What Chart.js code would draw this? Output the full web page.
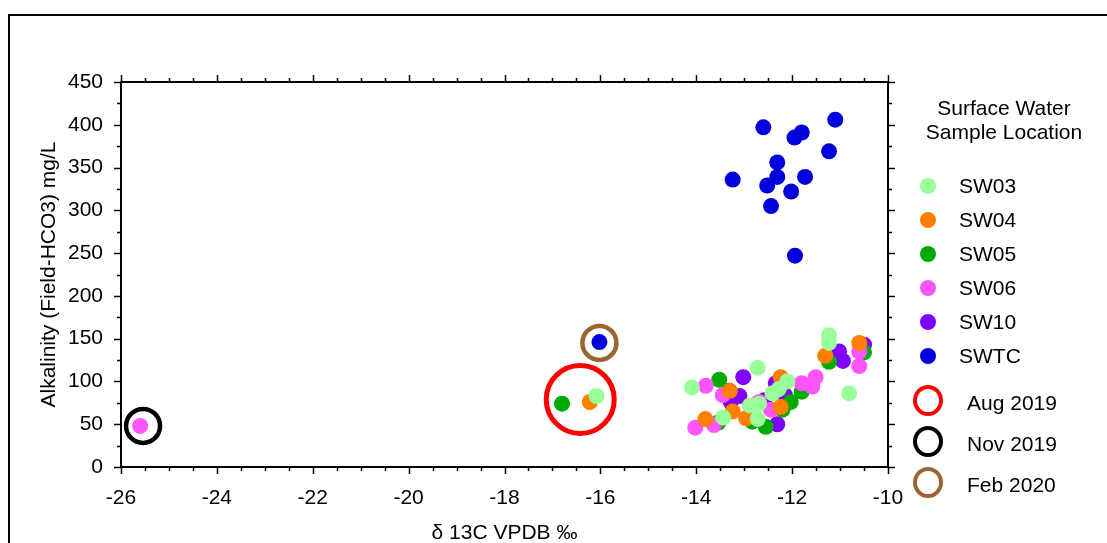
<!DOCTYPE html>
<html>
<head>
<meta charset="utf-8">
<script src="https://cdn.jsdelivr.net/npm/chart.js@4/dist/chart.umd.min.js"></script>
<style>
  html, body { margin: 0; padding: 0; background: #fff; overflow: hidden; }
  body { width: 1107px; height: 543px; position: relative; font-family: "Liberation Sans", Arial, sans-serif; }
  #frame { position: absolute; left: 8px; top: 14px; width: 2000px; height: 2000px; border: 2px solid #000; }
  #wrap { position: absolute; left: 0; top: 0; width: 1107px; height: 543px; }
  .lg { position: absolute; font-size: 21px; color: #000; white-space: nowrap; line-height: 24px; }
  .dot { position: absolute; width: 16px; height: 16px; border-radius: 50%; }
  .ring { position: absolute; width: 22px; height: 23px; border-radius: 50%; border-style: solid; border-width: 4px; }
</style>
</head>
<body>
<div id="frame"></div>
<div id="wrap"><canvas id="chart"></canvas></div>
<div id="legend"></div>
<script>
// ===== DATA =====
const seriesNames  = ["SW03", "SW04", "SW05", "SW06", "SW10", "SWTC"];
const seriesColors = ["#99ff99", "#ff8000", "#00aa00", "#ff55ff", "#8000ff", "#0000dd"];

// [d13C, alkalinity] pairs
const sw03 = [[-16.08, 83], [-11.23, 154], [-11.23, 145], [-12.72, 116], [-14.09, 93], [-10.81, 86],
              [-12.10, 100], [-12.41, 86], [-12.28, 91], [-12.69, 74], [-12.88, 72], [-13.44, 58], [-12.72, 56]];
const sw04 = [[-16.22, 76], [-10.60, 145], [-11.31, 130], [-12.24, 105], [-12.24, 70], [-13.81, 56],
              [-13.24, 65], [-12.96, 57], [-13.30, 89]];
const sw05 = [[-16.80, 74], [-13.52, 102], [-11.23, 123], [-10.50, 134], [-11.80, 88], [-12.03, 76],
              [-13.54, 52], [-12.55, 47], [-12.83, 53], [-12.20, 67]];
const sw06 = [[-25.60, 48], [-13.80, 95], [-10.60, 118], [-10.60, 135], [-11.51, 105], [-11.58, 94],
              [-11.80, 98], [-13.45, 84], [-12.69, 76], [-12.44, 67], [-14.02, 46], [-13.63, 49]];
const sw10 = [[-13.02, 105], [-11.02, 135], [-10.94, 124], [-10.50, 143], [-13.10, 83], [-13.28, 76],
              [-13.31, 89], [-12.58, 78], [-12.15, 84], [-12.31, 50], [-12.34, 98]];
const swtc = [[-16.02, 146], [-12.60, 397], [-11.10, 406], [-11.80, 391], [-11.95, 385], [-11.23, 369],
              [-12.31, 356], [-13.24, 336], [-12.31, 339], [-12.52, 329], [-11.73, 339], [-12.02, 322],
              [-12.44, 305], [-11.94, 247]];
const seriesData  = [sw03, sw04, sw05, sw06, sw10, swtc];
const seriesOrder = [1, 2, 4, 3, 5, 0]; // lower = drawn on top

// sampling campaign rings
const ringNames   = ["Aug 2019", "Nov 2019", "Feb 2020"];
const ringColors  = ["#ff0000", "#000000", "#996633"];
const ringCenters = [[-16.42, 79], [-25.54, 48], [-16.02, 145]];
const ringSizes   = [34, 17, 17];

const xTicks = { min: -26, max: -10, step: 2, minor: 0.5 };
const yTicks = { min: 0, max: 450, step: 50, minor: 25 };

const FONT = "'Liberation Sans', Arial, sans-serif";

// ===== AXIS BOX + TICKS =====
const frameTicks = {
  id: "frameTicks",
  afterDatasetsDraw(chart) {
    const { ctx, chartArea: a, scales: { x, y } } = chart;
    ctx.save();
    ctx.strokeStyle = "#000";
    ctx.lineWidth = 2;
    ctx.strokeRect(a.left, a.top, a.right - a.left, a.bottom - a.top);
    ctx.lineWidth = 1.5;
    ctx.beginPath();
    for (let v = xTicks.min; v <= xTicks.max + 1e-9; v += xTicks.minor) {
      const px = Math.round(x.getPixelForValue(v)) + 0.5;
      const len = Math.abs(Math.round(v) - v) < 1e-9 && Math.round(v) % xTicks.step === 0 ? 7 : 4;
      ctx.moveTo(px, a.bottom); ctx.lineTo(px, a.bottom + len);
      ctx.moveTo(px, a.top); ctx.lineTo(px, a.top - len);
    }
    for (let v = yTicks.min; v <= yTicks.max; v += yTicks.minor) {
      const py = Math.round(y.getPixelForValue(v)) + 0.5;
      const len = v % yTicks.step === 0 ? 7 : 4;
      ctx.moveTo(a.left, py); ctx.lineTo(a.left - len, py);
      ctx.moveTo(a.right, py); ctx.lineTo(a.right + len, py);
    }
    ctx.stroke();
    ctx.restore();
  }
};

// ===== CHART =====
const datasets = seriesNames.map((name, i) => ({
  label: name,
  data: seriesData[i].map(([x, y]) => ({ x, y })),
  backgroundColor: seriesColors[i],
  borderWidth: 0,
  pointRadius: 8,
  order: seriesOrder[i]
}));
ringNames.forEach((name, i) => {
  datasets.push({
    label: name,
    data: [{ x: ringCenters[i][0], y: ringCenters[i][1] }],
    backgroundColor: "transparent",
    borderColor: ringColors[i],
    borderWidth: i === 0 ? 5 : 4.5,
    pointRadius: ringSizes[i],
    order: -1
  });
});

new Chart(document.getElementById("chart"), {
  type: "scatter",
  data: { datasets },
  options: {
    responsive: true,
    maintainAspectRatio: false,
    animation: false,
    events: [],
    layout: { padding: { top: 82, right: 219, left: 0, bottom: 0 } },
    plugins: { legend: { display: false }, tooltip: { enabled: false } },
    scales: {
      x: {
        type: "linear",
        min: xTicks.min, max: xTicks.max,
        grid: { display: false, drawTicks: false },
        border: { display: false },
        ticks: { stepSize: xTicks.step, color: "#000", padding: 19, font: { family: FONT, size: 21 } },
        title: { display: true, text: "δ 13C VPDB ‰", color: "#000",
                 font: { family: FONT, size: 21, lineHeight: 1 }, padding: { top: 0, bottom: -1 } },
        afterFit(s) { s.height = 76; }
      },
      y: {
        type: "linear",
        min: yTicks.min, max: yTicks.max,
        grid: { display: false, drawTicks: false },
        border: { display: false },
        ticks: { stepSize: yTicks.step, color: "#000", padding: 18, font: { family: FONT, size: 21 } },
        title: { display: true, text: "Alkalinity (Field-HCO3) mg/L", color: "#000",
                 font: { family: FONT, size: 21, lineHeight: 1 }, padding: { top: 39, bottom: 0 } },
        afterFit(s) { s.width = 121; }
      }
    }
  },
  plugins: [frameTicks]
});

// ===== LEGEND =====
const legend = document.getElementById("legend");
function addText(txt, left, cy, center) {
  const d = document.createElement("div");
  d.className = "lg";
  d.textContent = txt;
  d.style.top = (cy - 12) + "px";
  if (center) { d.style.left = (left - 150) + "px"; d.style.width = "300px"; d.style.textAlign = "center"; }
  else d.style.left = left + "px";
  legend.appendChild(d);
}
addText("Surface Water", 1004, 108, true);
addText("Sample Location", 1004, 132, true);
seriesNames.forEach((name, i) => {
  const cy = 186 + i * 34;
  const dot = document.createElement("div");
  dot.className = "dot";
  dot.style.background = seriesColors[i];
  dot.style.left = (928 - 8) + "px";
  dot.style.top = (cy - 8) + "px";
  legend.appendChild(dot);
  addText(name, 959, cy, false);
});
ringNames.forEach((name, i) => {
  const cy = 400 + i * 41;
  const r = document.createElement("div");
  r.className = "ring";
  r.style.borderColor = ringColors[i];
  r.style.left = (928 - 15) + "px";
  r.style.top = (cy - 15) + "px";
  legend.appendChild(r);
  addText(name, 967, cy + 3, false);
});
</script>
</body>
</html>
